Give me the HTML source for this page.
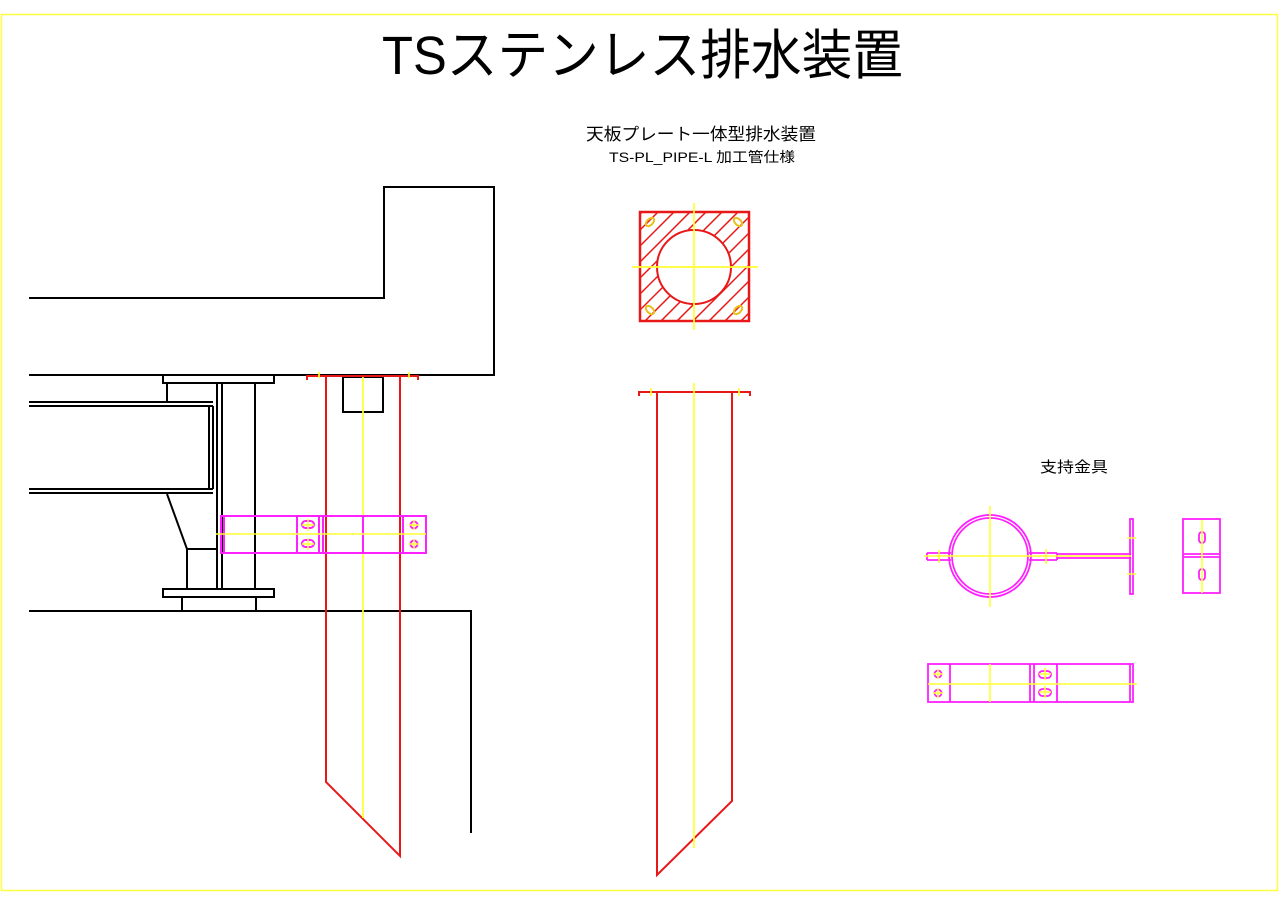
<!DOCTYPE html>
<html><head><meta charset="utf-8"><style>
html,body{margin:0;padding:0;background:#fff;}
svg{display:block;}
text{font-family:"Liberation Sans","Noto Sans CJK JP",sans-serif;}
</style></head><body>
<svg width="1280" height="905" viewBox="0 0 1280 905" xmlns="http://www.w3.org/2000/svg">
<rect x="1.5" y="14.5" width="1276" height="876" fill="none" stroke="#ffff40" stroke-width="1.5"/>
<text x="382" y="74" font-size="54" textLength="521" lengthAdjust="spacingAndGlyphs" fill="#000">TSステンレス排水装置</text>
<text x="586" y="140" font-size="17" textLength="230" lengthAdjust="spacingAndGlyphs" fill="#000">天板プレート一体型排水装置</text>
<text x="609" y="162" font-size="14" textLength="186" lengthAdjust="spacingAndGlyphs" fill="#000">TS-PL_PIPE-L 加工管仕様</text>
<text x="1040" y="472" font-size="15" textLength="68" lengthAdjust="spacingAndGlyphs" fill="#000">支持金具</text>

<g fill="none" stroke="#000" stroke-width="2">
<polyline points="29,298 384,298 384,187 494,187 494,375 29,375"/>
<rect x="163" y="375" width="111" height="8"/>
<rect x="163" y="589" width="111" height="8"/>
<path d="M167,383 V401 M217,383 V589 M222,383 V589 M255,383 V589"/>
<path d="M29,402 H213 M29,406 H213 M29,489 H213 M29,493 H213 M213,406 V489 M209,406 V489"/>
<polyline points="167,494 187,549 187,589"/>
<path d="M187,549 H217"/>
<path d="M182,597 V611 M256,597 V611"/>
<polyline points="29,611 471,611 471,833"/>
<rect x="343" y="377" width="40" height="35"/>
</g>

<g fill="none" stroke="#e81818" stroke-width="2">
<path d="M307,380 V376 H418 V380"/>
<polyline points="326,377 326,782 400,856 400,377"/>
</g>
<path d="M363,377 V818 M319,372 V378 M409,372 V378" stroke="#ffff30" stroke-width="1.7"/>

<g fill="none" stroke="#ff20ff" stroke-width="2">
<rect x="221" y="516" width="205" height="37"/>
<path d="M224,516 V553 M297,516 V553 M319,516 V553 M323,516 V553 M363,516 V553 M403,516 V553"/>
<rect x="302" y="521" width="12" height="7" rx="3.5"/>
<rect x="302" y="540" width="12" height="7" rx="3.5"/>
<circle cx="414" cy="525" r="3.5"/>
<circle cx="414" cy="544" r="3.5"/>
</g>
<path d="M216,534 H426 M308,519 V531 M308,538 V550 M414,520 V530 M414,539 V549 M302,525 H314 M302,544 H314 M409,525 H419 M409,544 H419" stroke="#ffff30" stroke-width="1.5"/>

<defs><clipPath id="c"><rect x="640" y="212" width="109" height="109"/></clipPath>
<mask id="m"><rect x="630" y="200" width="130" height="130" fill="#fff"/><circle cx="694" cy="267" r="37" fill="#000"/></mask></defs>
<g clip-path="url(#c)" mask="url(#m)" stroke="#e81818" stroke-width="1.5">
<path d="M620,234 L664,190 M620,250 L680,190 M620,266 L696,190 M620,282 L712,190 M620,298 L728,190 M620,314 L744,190 M620,330 L760,190 M626,340 L776,190 M642,340 L790,192 M658,340 L790,208 M674,340 L790,224 M690,340 L790,240 M706,340 L790,256 M722,340 L790,272 M738,340 L790,288 M754,340 L790,304 M620,218 L648,190"/>
</g>
<rect x="640" y="212" width="109" height="109" fill="none" stroke="#e81818" stroke-width="2.5"/>
<circle cx="694" cy="267" r="37" fill="none" stroke="#e81818" stroke-width="2"/>
<g fill="none" stroke="#e8c020" stroke-width="2">
<ellipse cx="650" cy="222" rx="5" ry="3" transform="rotate(-45 650 222)"/>
<ellipse cx="738" cy="222" rx="5" ry="3" transform="rotate(45 738 222)"/>
<ellipse cx="650" cy="310" rx="5" ry="3" transform="rotate(45 650 310)"/>
<ellipse cx="738" cy="310" rx="5" ry="3" transform="rotate(-45 738 310)"/>
</g>
<path d="M632,267 H758 M694,203 V330" stroke="#ffff30" stroke-width="1.7"/>

<g fill="none" stroke="#e81818" stroke-width="2">
<path d="M639,396 V392 H750 V396"/>
<polyline points="657,393 657,875 732,801 732,393"/>
</g>
<path d="M694,383 V848 M651,388 V396 M739,388 V396" stroke="#ffff30" stroke-width="1.7"/>

<g fill="none" stroke="#ff20ff" stroke-width="1.8">
<circle cx="990" cy="556" r="41"/>
<circle cx="990" cy="556" r="38"/>
<path d="M927,553 H951 M927,560 H951 M927,553 V560 M1029,553 H1057 M1029,560 H1057 M1057,553 V560 M1057,554 H1131 M1057,558 H1131"/>
<rect x="1130" y="519" width="3" height="75"/>
<rect x="1183" y="519" width="37" height="74"/>
<path d="M1183,554 H1220 M1183,557 H1220"/>
<rect x="1199" y="532" width="6" height="11" rx="3"/>
<rect x="1199" y="569" width="6" height="11" rx="3"/>
<rect x="928" y="664" width="205" height="38"/>
<path d="M950,664 V702 M1030,664 V702 M1034,664 V702 M1057,664 V702 M1130,664 V702"/>
<circle cx="938" cy="674" r="3.5"/>
<circle cx="938" cy="693" r="3.5"/>
<rect x="1039" y="671" width="12" height="7" rx="3.5"/>
<rect x="1039" y="689" width="12" height="7" rx="3.5"/>
</g>
<path d="M924,556 H1131 M990,506 V607 M939,550 V563 M1046,549 V564 M1127,538 H1136 M1127,574 H1136 M1202,520 V593 M928,684 H1137 M990,664 V702 M933,674 H943 M933,693 H943 M938,669 V679 M938,688 V698 M1039,674 H1051 M1039,692 H1051 M1045,668 V680 M1045,686 V698" stroke="#ffff30" stroke-width="1.6"/>
</svg>
</body></html>
